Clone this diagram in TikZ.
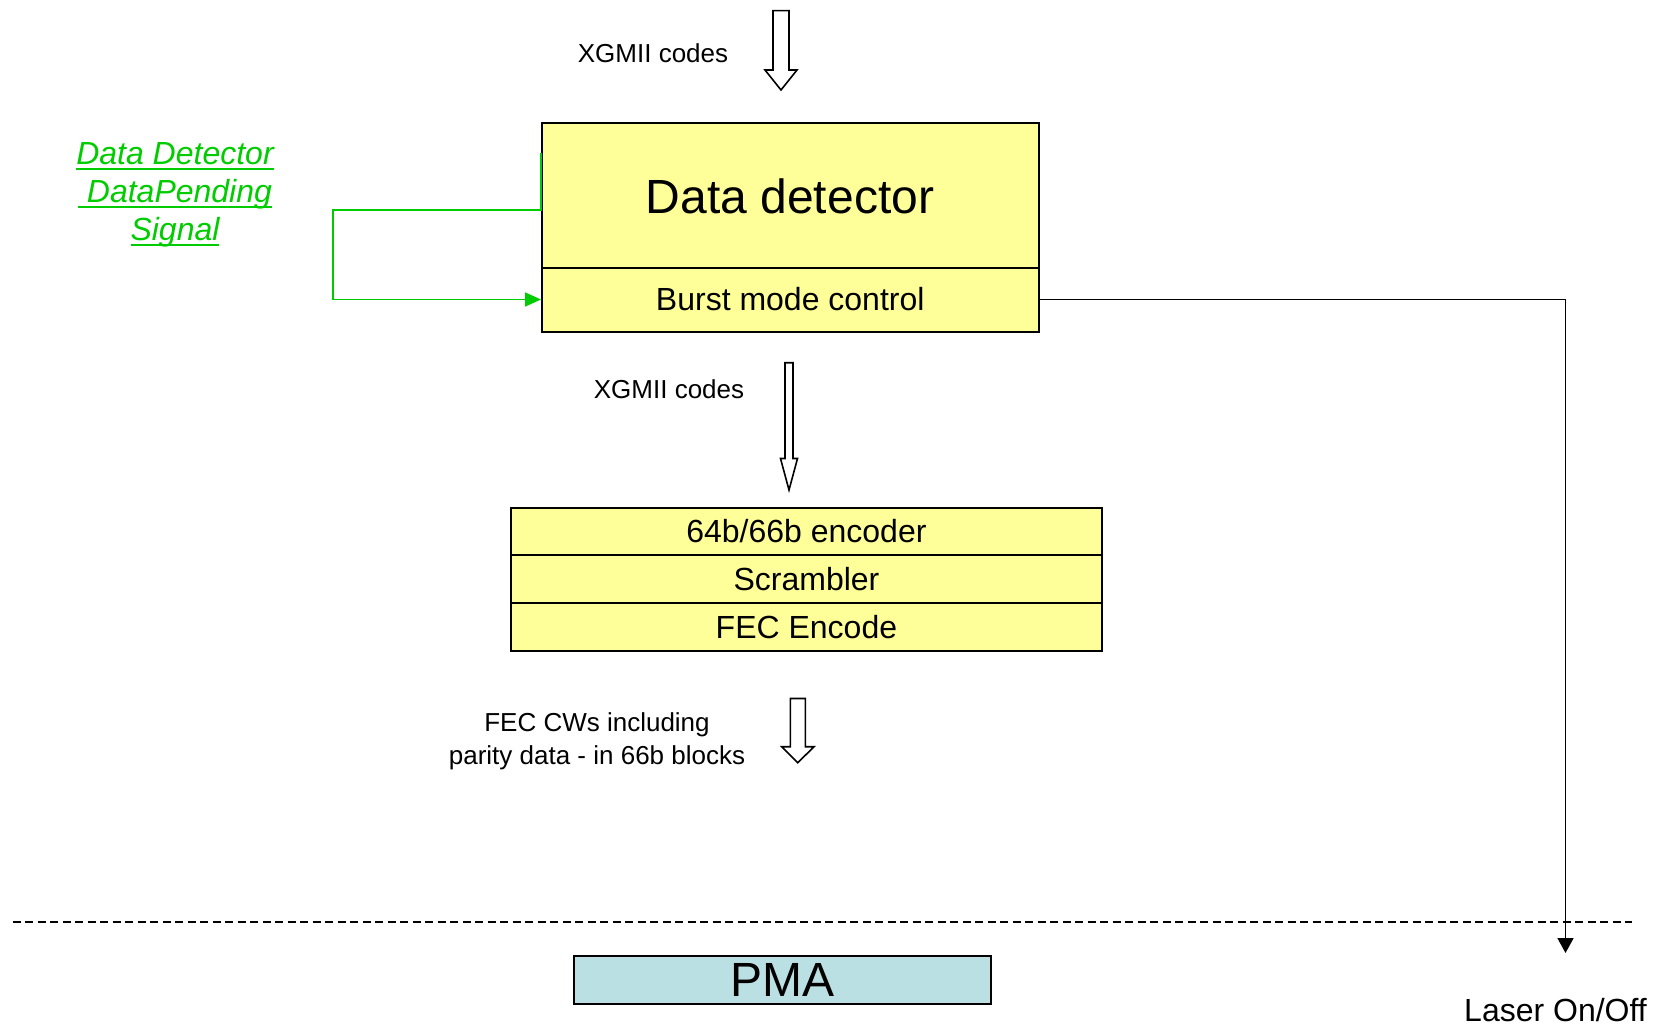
\documentclass[tikz,border=0pt]{standalone}
\usepackage{fontspec}
\setmainfont{Liberation Sans}
\usetikzlibrary{arrows.meta}
\definecolor{boxyellow}{HTML}{FFFF99}
\definecolor{pmablue}{HTML}{BBE0E3}
\definecolor{sigreen}{HTML}{00CC00}
\newcommand\gul[1]{\setbox0\hbox{#1}\rlap{\color{sigreen}\rule[-5pt]{\wd0}{2pt}}\box0}
\tikzset{
  blk/.style={draw=black, line width=2pt, fill=boxyellow, inner sep=0pt, anchor=north west},
  lbl/.style={inner sep=0pt, align=center},
  hollow/.style={draw=black, line width=1.6pt, fill=white, line join=miter},
  conn/.style={line width=1.6pt},
}
\begin{document}
\begin{tikzpicture}[x=1pt,y=-1pt]
\useasboundingbox (0,0) rectangle (1665,1026);
% Data detector block
\node[blk, minimum width=496.5pt, minimum height=144.5pt] (dd) at (541,122) {};
\node[lbl, font=\fontsize{48}{56}\selectfont] (ddt) at (790,196.5) {Data detector};
\node[blk, minimum width=496.5pt, minimum height=64pt] (bmc) at (541,266.5) {};
\node[lbl, font=\fontsize{32}{38}\selectfont] (bmct) at (bmc.center) {Burst mode control};
% encoder stack
\node[blk, minimum width=591.5pt, minimum height=47.8pt] (enc) at (509.7,506.5) {};
\node[lbl, font=\fontsize{32}{38}\selectfont] at (enc.center) {64b/66b encoder};
\node[blk, minimum width=591.5pt, minimum height=47.8pt] (scr) at (509.7,554.3) {};
\node[lbl, font=\fontsize{32}{38}\selectfont] at (scr.center) {Scrambler};
\node[blk, minimum width=591.5pt, minimum height=47.8pt] (fec) at (509.7,602.1) {};
\node[lbl, font=\fontsize{32}{38}\selectfont] at (fec.center) {FEC Encode};
% PMA
\node[draw=black, line width=2pt, fill=pmablue, inner sep=0pt, anchor=north west,
      minimum width=417pt, minimum height=48pt] (pma) at (573,954.5) {};
\node[lbl, font=\fontsize{48}{56}\selectfont] at (pma.center) {PMA};
% labels
\node[lbl, font=\fontsize{26}{33}\selectfont] (x1) at (653,53) {XGMII codes};
\node[lbl, font=\fontsize{26}{33}\selectfont] (x2) at (669,389) {XGMII codes};
\node[lbl, font=\fontsize{26}{33}\selectfont] (fcw) at (597,741) {FEC CWs including\\parity data - in 66b blocks};
\node[lbl, font=\fontsize{32}{38}\selectfont] (laser) at (1555.5,1010) {Laser On/Off};
\node[lbl, text=sigreen, font=\fontsize{32}{38}\selectfont\itshape] (sig) at (175,195)
  {\gul{Data Detector}\\\gul{\ DataPending}\\\gul{Signal}};
% hollow block arrows
\draw[hollow] (773,10.6) -- (789,10.6) -- (789,70) -- (797,70) -- (781,90) -- (765,70) -- (773,70) -- cycle;
\draw[hollow] (785,362.7) -- (793,362.7) -- (793,458.5) -- (797.5,458.5) -- (789,490) -- (780.5,458.5) -- (785,458.5) -- cycle;
\draw[hollow] (790.3,698.5) -- (805.3,698.5) -- (805.3,746.7) -- (814,746.7) -- (797.8,762.7) -- (781.6,746.7) -- (790.3,746.7) -- cycle;
% green feedback connector
\coordinate (gl) at (333,210);
\draw[conn, draw=sigreen, -{Triangle[length=16pt,width=14pt]}] ([yshift=-31pt]dd.north west) |- (gl) |- (bmc.west);
% laser connector
\coordinate (lz) at (1565.5,953);
\draw[conn, -{Triangle[length=15pt,width=16pt]}] (bmc.east) -| (lz);
% dashed boundary
\coordinate (d1) at (12.7,922);
\coordinate (d2) at (1632,922);
\draw[line width=1.5pt, dash pattern=on 8pt off 4.5pt] (d1) -- (d2);
\end{tikzpicture}
\end{document}
